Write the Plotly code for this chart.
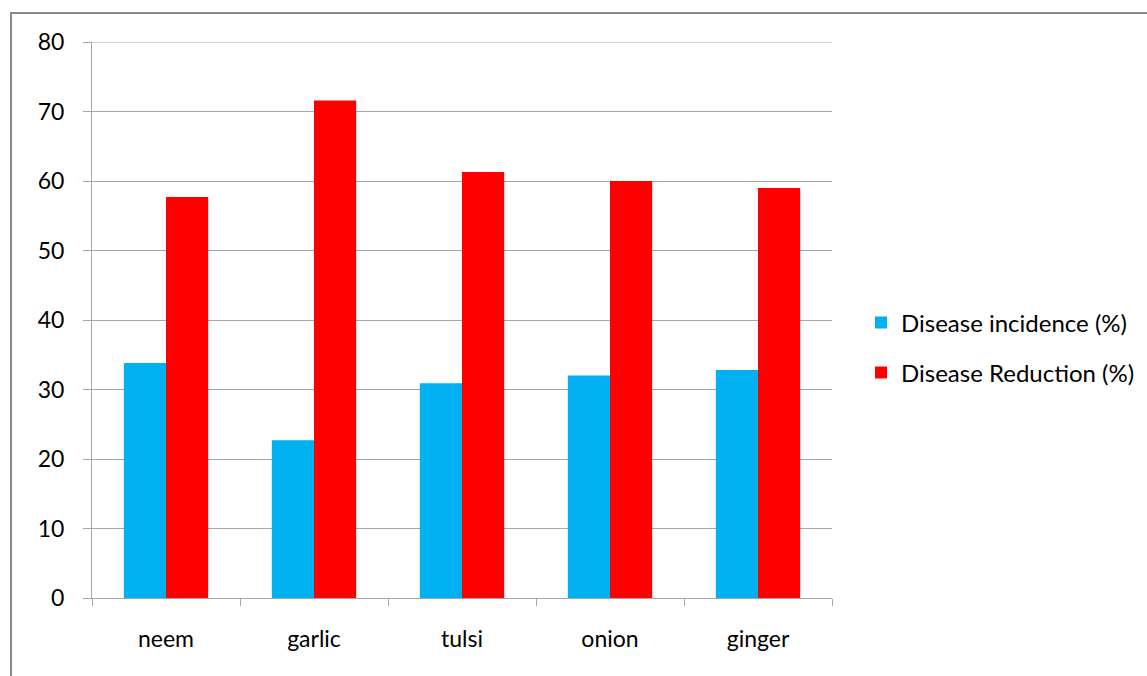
import plotly.graph_objects as go

categories = ["neem", "garlic", "tulsi", "onion", "ginger"]
incidence = [33.8, 22.7, 30.9, 32.0, 32.8]
reduction = [57.7, 71.6, 61.3, 60.0, 59.0]
series_names = ["Disease incidence (%)", "Disease Reduction (%)"]
y_ticks = [0, 10, 20, 30, 40, 50, 60, 70, 80]

FONT = "Lato, 'Open Sans', sans-serif"
GRID = "#a6a6a6"
FS = 23

fig = go.Figure()
fig.add_trace(go.Bar(x=categories, y=incidence, name=series_names[0],
                     marker=dict(color="#00b0f0", line=dict(width=0)), legendgroup="a"))
fig.add_trace(go.Bar(x=categories, y=reduction, name=series_names[1],
                     marker=dict(color="#ff0000", line=dict(width=0)), legendgroup="b"))

fig.update_layout(
    width=1147, height=676,
    margin=dict(l=92, r=315, t=42, b=78, autoexpand=False),
    paper_bgcolor="white", plot_bgcolor="white",
    barmode="group", bargap=0.43, bargroupgap=0,
    font=dict(family=FONT, size=FS, color="#000000"),
    showlegend=True,
    legend=dict(x=(861 - 92) / 740, y=0.45, xanchor="left", yanchor="middle",
                font=dict(size=24), tracegroupgap=16, traceorder="grouped",
                itemwidth=30, bgcolor="rgba(0,0,0,0)"),
    xaxis=dict(type="category", tickson="boundaries", ticks="outside", ticklen=7,
               tickcolor=GRID, showline=True, linecolor=GRID, linewidth=1,
               showgrid=False, ticklabelstandoff=20, tickfont=dict(size=FS)),
    yaxis=dict(range=[0, 80], tickvals=y_ticks, ticks="outside", ticklen=8,
               tickcolor=GRID, showline=True, linecolor=GRID, linewidth=1,
               showgrid=True, gridcolor=GRID, gridwidth=1, zeroline=False,
               ticklabelstandoff=14, tickfont=dict(size=FS)),
    shapes=[
        dict(type="rect", xref="paper", yref="paper",
             x0=(11 - 92) / 740, x1=1.6, y0=-0.5, y1=(598 - 13) / 556,
             line=dict(color="#878787", width=2), fillcolor="rgba(0,0,0,0)",
             layer="below"),
        dict(type="line", xref="paper", yref="y", x0=0, x1=1,
             y0=y_ticks[-1], y1=y_ticks[-1],
             line=dict(color=GRID, width=1), layer="below"),
    ],
)

fig.write_html("out.html")
